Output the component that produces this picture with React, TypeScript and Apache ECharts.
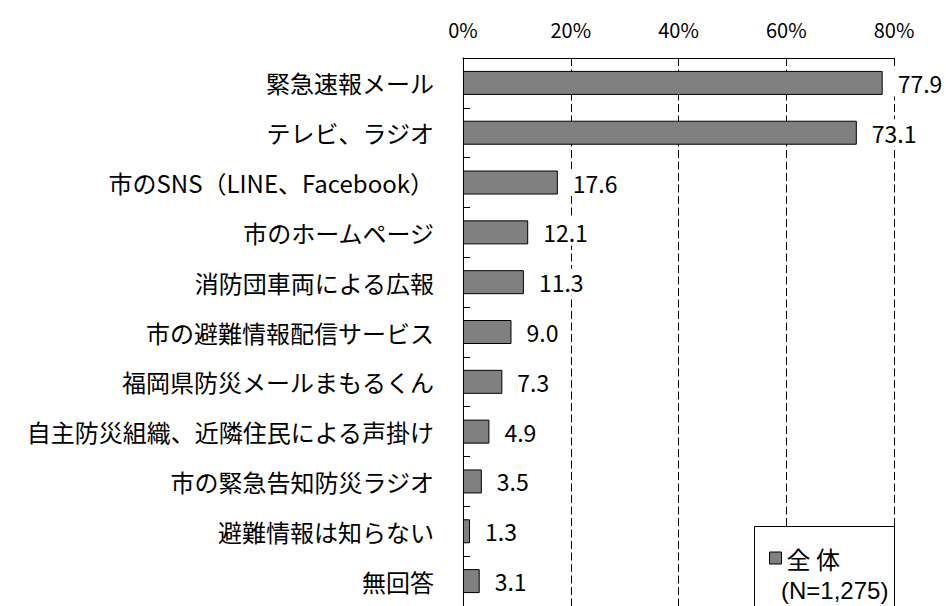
import React, { useEffect, useRef } from "react";
import * as echarts from "echarts";

const categories = [
  "緊急速報メール",
  "テレビ、ラジオ",
  "市のSNS（LINE、Facebook）",
  "市のホームページ",
  "消防団車両による広報",
  "市の避難情報配信サービス",
  "福岡県防災メールまもるくん",
  "自主防災組織、近隣住民による声掛け",
  "市の緊急告知防災ラジオ",
  "避難情報は知らない",
  "無回答",
];
const values = [77.9, 73.1, 17.6, 12.1, 11.3, 9.0, 7.3, 4.9, 3.5, 1.3, 3.1];
const seriesName = "全 体";
const sampleNote = "(N=1,275)";
const axisMin = 0;
const axisMax = 80;
const axisStep = 20;

const JP = '"Noto Sans CJK JP", "Noto Sans", sans-serif';

export default function App() {
  const ref = useRef<HTMLDivElement>(null);
  useEffect(() => {
    if (!ref.current) return;
    const chart = echarts.init(ref.current, null, { renderer: "svg" });
    chart.setOption({
      animation: false,
      backgroundColor: "#ffffff",
      grid: { left: 463, top: 58, width: 431, height: 553, containLabel: false },
      xAxis: {
        type: "value",
        position: "top",
        z: 0,
        min: axisMin,
        max: axisMax,
        interval: axisStep,
        axisLine: { show: true, lineStyle: { color: "#000", width: 1 } },
        axisTick: { show: true, inside: true, length: 5, lineStyle: { color: "#000" } },
        axisLabel: {
          formatter: "{value}%",
          color: "#000",
          fontSize: 20,
          fontFamily: JP,
          margin: 19,
        },
        splitLine: {
          show: true,
          lineStyle: { color: "#000", width: 1, type: [8, 3.5] },
        },
      },
      yAxis: {
        type: "category",
        data: categories,
        inverse: true,
        z: 1,
        axisLine: { show: true, lineStyle: { color: "#000", width: 1 } },
        axisTick: { show: true, inside: true, length: 7, lineStyle: { color: "#000" } },
        axisLabel: {
          color: "#000",
          fontSize: 24,
          fontFamily: JP,
          margin: 29,
        },
        splitLine: { show: false },
      },
      legend: {
        show: true,
        left: 764,
        top: 541,
        z: 20,
        icon: "rect",
        itemWidth: 12,
        itemHeight: 12,
        textStyle: { color: "#000", fontSize: 24, fontFamily: JP },
        data: [seriesName],
        itemStyle: { borderColor: "#000", borderWidth: 1 },
      },
      graphic: [
        {
          type: "rect",
          z: 15,
          shape: { x: 754.5, y: 526.5, width: 140, height: 100 },
          style: { fill: "#fff", stroke: "#000", lineWidth: 1 },
        },
        {
          type: "text",
          z: 20,
          x: 781,
          y: 590,
          style: {
            text: sampleNote,
            fill: "#000",
            fontSize: 24,
            fontFamily: '"Liberation Sans", Arial, sans-serif',
            verticalAlign: "middle",
          },
        },
      ],
      series: [
        {
          name: seriesName,
          type: "bar",
          data: values,
          barWidth: 24,
          z: 5,
          itemStyle: { color: "#808080", borderColor: "#000", borderWidth: 1 },
          label: {
            show: true,
            position: "right",
            distance: 10,
            color: "#000",
            fontSize: 23,
            fontFamily: JP,
            backgroundColor: "#ffffff",
            padding: [2, 5, 2, 5],
            formatter: (p: any) => Number(p.value).toFixed(1),
          },
        },
      ],
    });
    return () => chart.dispose();
  }, []);
  return (
    <div
      ref={ref}
      style={{ position: "fixed", left: 0, top: 0, width: 946, height: 606, background: "#fff" }}
    />
  );
}
